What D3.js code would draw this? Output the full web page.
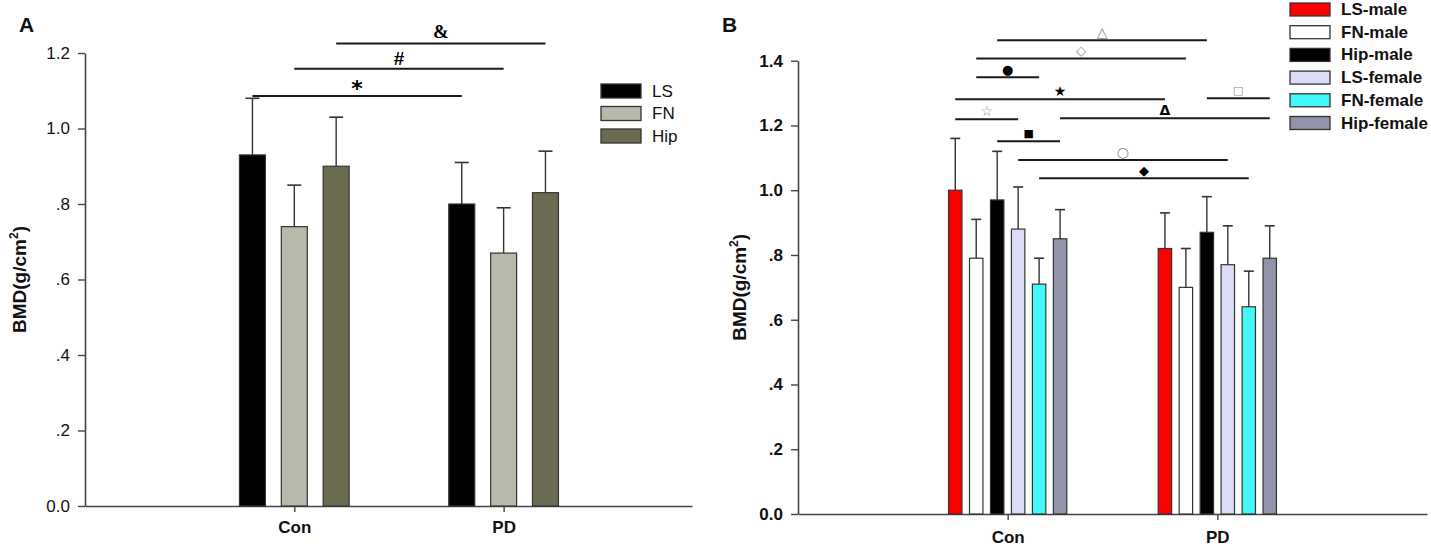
<!DOCTYPE html>
<html><head><meta charset="utf-8">
<script src="https://cdn.jsdelivr.net/npm/d3@7/dist/d3.min.js"></script>
<style>
body{margin:0;background:#fff}
svg{display:block}
</style>
</head><body>
<svg id="chart" width="1431" height="551"></svg>
<script>
// ---------- DATA ----------
const groups = ["Con", "PD"];

// Panel A
const seriesA = ["LS", "FN", "Hip"];
const colorsA = ["#000000", "#b9b9ab", "#6b6b52"];
const meanA_Con = [0.93, 0.74, 0.90];
const meanA_PD  = [0.80, 0.67, 0.83];
const errA_Con  = [1.08, 0.85, 1.03];
const errA_PD   = [0.91, 0.79, 0.94];
const yTicksA = [0, 0.2, 0.4, 0.6, 0.8, 1.0, 1.2];
const yTickLabelsA = ["0.0", ".2", ".4", ".6", ".8", "1.0", "1.2"];
// significance brackets: [fromGroup, fromSeries, toGroup, toSeries]
const sigSymbolsA = ["*", "#", "&"];
const sigLevelsA  = [1.086, 1.158, 1.225];
const sigPairsA   = [[0, 0, 1, 0], [0, 1, 1, 1], [0, 2, 1, 2]];

// Panel B
const seriesB = ["LS-male", "FN-male", "Hip-male", "LS-female", "FN-female", "Hip-female"];
const colorsB = ["#ff0000", "#ffffff", "#000000", "#dcdcf8", "#44f8f8", "#9292a8"];
const meanB_Con = [1.00, 0.79, 0.97, 0.88, 0.71, 0.85];
const meanB_PD  = [0.82, 0.70, 0.87, 0.77, 0.64, 0.79];
const errB_Con  = [1.16, 0.91, 1.12, 1.01, 0.79, 0.94];
const errB_PD   = [0.93, 0.82, 0.98, 0.89, 0.75, 0.89];
const yTicksB = [0, 0.2, 0.4, 0.6, 0.8, 1.0, 1.2, 1.4];
const yTickLabelsB = ["0.0", ".2", ".4", ".6", ".8", "1.0", "1.2", "1.4"];
const sigSymbolsB = ["\u25B3", "\u25C7", "\u25CF", "\u2605", "\u25A1", "\u2606", "\u0394", "\u25A0", "\u25CB", "\u25C6"];
const sigColorsB  = ["#8a8a8a", "#8a8a8a", "#000", "#000", "#8a8a8a", "#8a8a8a", "#000", "#000", "#8a8a8a", "#000"];
const sigLevelsB  = [1.463, 1.407, 1.349, 1.281, 1.284, 1.219, 1.222, 1.151, 1.093, 1.037];
const sigPairsB   = [[0, 2, 1, 2], [0, 1, 1, 1], [0, 1, 0, 4], [0, 0, 1, 0], [1, 2, 1, 5],
                     [0, 0, 0, 3], [0, 5, 1, 5], [0, 2, 0, 5], [0, 3, 1, 3], [0, 4, 1, 4]];

// ---------- DRAW ----------
const FONT = "'Liberation Sans', Arial, Helvetica, sans-serif";
const svg = d3.select("#chart");
svg.append("rect").attr("width", 1431).attr("height", 551).attr("fill", "#fff");

function panel(cfg) {
  const g = svg.append("g");
  const x = d3.scaleLinear().domain(cfg.xDomain).range(cfg.xRange);
  const y = d3.scaleLinear().domain([0, cfg.yMax]).range(cfg.yRange);
  const unit = x(1) - x(0);
  const sub = d3.scaleBand().domain(cfg.series)
    .range([-0.3 * unit, 0.3 * unit]).paddingInner(cfg.pad).paddingOuter(cfg.pad / 2);
  const cx = (gi, si) => x(gi + 1) + sub(cfg.series[si]) + sub.bandwidth() / 2;

  // axes
  const yAxis = d3.axisLeft(y).tickValues(cfg.yTicks)
    .tickFormat((d, i) => cfg.yLabels[i]).tickSize(7).tickSizeOuter(0).tickPadding(8);
  const ya = g.append("g").attr("transform", `translate(${cfg.xRange[0]},0)`).call(yAxis);
  const xAxis = d3.axisBottom(x).tickValues([1, 2])
    .tickFormat(d => groups[d - 1]).tickSize(6).tickSizeOuter(0).tickPadding(cfg.xLabelPad);
  const xa = g.append("g").attr("transform", `translate(0,${cfg.yRange[0]})`).call(xAxis);
  [ya, xa].forEach(a => {
    a.attr("font-family", FONT);
    a.select(".domain").attr("stroke", "#454545").attr("stroke-width", 1.6);
    a.selectAll(".tick line").attr("stroke", "#454545").attr("stroke-width", 1.4);
    a.selectAll("text").attr("fill", "#111");
  });
  ya.selectAll("text").attr("font-size", cfg.yTickSize).attr("font-weight", cfg.yTickWeight);
  xa.selectAll("text").attr("font-size", cfg.xTickSize).attr("font-weight", "bold");

  // bars
  cfg.means.forEach((arr, gi) => {
    arr.forEach((v, si) => {
      const bx = x(gi + 1) + sub(cfg.series[si]);
      g.append("rect").attr("x", bx).attr("y", y(v))
        .attr("width", sub.bandwidth()).attr("height", y(0) - y(v))
        .attr("fill", cfg.colors[si]).attr("stroke", "#333").attr("stroke-width", 1.2);
      const c = cx(gi, si), e = cfg.errs[gi][si];
      g.append("line").attr("x1", c).attr("x2", c).attr("y1", y(v)).attr("y2", y(e))
        .attr("stroke", "#333").attr("stroke-width", 1.4);
      g.append("line").attr("x1", c - cfg.cap).attr("x2", c + cfg.cap).attr("y1", y(e)).attr("y2", y(e))
        .attr("stroke", "#333").attr("stroke-width", 1.6);
    });
  });

  // significance lines
  cfg.sigPairs.forEach((p, i) => {
    const x1 = cx(p[0], p[1]), x2 = cx(p[2], p[3]), ly = y(cfg.sigLevels[i]);
    g.append("line").attr("x1", x1).attr("x2", x2).attr("y1", ly).attr("y2", ly)
      .attr("stroke", "#1a1a1a").attr("stroke-width", 2);
    g.append("text").attr("x", (x1 + x2) / 2).attr("y", ly - cfg.symOff[i])
      .attr("text-anchor", "middle").attr("dominant-baseline", "central")
      .attr("font-family", cfg.symFont[i]).attr("font-size", cfg.symSize[i])
      .attr("font-weight", cfg.symWeight[i])
      .attr("fill", cfg.symColors ? cfg.symColors[i] : "#000")
      .text(cfg.sigSymbols[i]);
  });

  // legend
  cfg.series.forEach((s, i) => {
    const ly = cfg.legY + i * cfg.legStep;
    g.append("rect").attr("x", cfg.legX).attr("y", ly).attr("width", 40).attr("height", cfg.legH)
      .attr("fill", cfg.colors[i]).attr("stroke", "#333").attr("stroke-width", 1.3);
    g.append("text").attr("x", cfg.legX + 51).attr("y", ly + cfg.legH / 2)
      .attr("dominant-baseline", "central").attr("font-family", FONT)
      .attr("font-size", cfg.legSize).attr("font-weight", cfg.legWeight).attr("fill", "#111").text(s);
  });

  // y title
  const t = g.append("text")
    .attr("transform", `translate(${cfg.titleX},${(cfg.yRange[0] + cfg.yRange[1]) / 2}) rotate(-90)`)
    .attr("text-anchor", "middle").attr("font-family", FONT).attr("font-size", 19)
    .attr("font-weight", "bold").attr("fill", "#111");
  t.append("tspan").text("BMD(g/cm");
  t.append("tspan").attr("font-size", 12).attr("dy", -8).text("2");
  t.append("tspan").attr("dy", 8).text(")");

  // panel letter
  g.append("text").attr("x", cfg.letterX).attr("y", 32).attr("font-family", FONT)
    .attr("font-size", 21).attr("font-weight", "bold").attr("fill", "#111").text(cfg.letter);
}

panel({
  letter: "A", letterX: 19, titleX: 26,
  xDomain: [0, 2.9], xRange: [85, 692], yMax: 1.2, yRange: [506, 53],
  series: seriesA, colors: colorsA, pad: 0.38,
  means: [meanA_Con, meanA_PD], errs: [errA_Con, errA_PD], cap: 7,
  yTicks: yTicksA, yLabels: yTickLabelsA, yTickSize: 17, yTickWeight: "normal",
  xTickSize: 17, xLabelPad: 9,
  sigPairs: sigPairsA, sigLevels: sigLevelsA, sigSymbols: sigSymbolsA,
  symFont: ["'DejaVu Sans', sans-serif", FONT, "'Liberation Serif', serif"],
  symSize: [22, 19, 19], symWeight: ["bold", "bold", "bold"], symOff: [8, 10, 12],
  legX: 601, legY: 84, legStep: 22.5, legH: 14, legSize: 17, legWeight: "normal"
});

const symFontB = "'DejaVu Sans', sans-serif";
panel({
  letter: "B", letterX: 722, titleX: 746,
  xDomain: [0, 3.0], xRange: [798, 1427], yMax: 1.4, yRange: [514, 60.7],
  series: seriesB, colors: colorsB, pad: 0.36,
  means: [meanB_Con, meanB_PD], errs: [errB_Con, errB_PD], cap: 5,
  yTicks: yTicksB, yLabels: yTickLabelsB, yTickSize: 17, yTickWeight: "bold",
  xTickSize: 17, xLabelPad: 11,
  sigPairs: sigPairsB, sigLevels: sigLevelsB, sigSymbols: sigSymbolsB,
  symColors: sigColorsB,
  symFont: sigSymbolsB.map(() => symFontB),
  symSize: [14, 13, 13, 14, 11, 14, 14, 11, 14, 13],
  symWeight: ["normal", "normal", "normal", "normal", "normal", "normal", "bold", "normal", "normal", "normal"],
  symOff: sigSymbolsB.map(() => 8),
  legX: 1290, legY: 3, legStep: 22.7, legH: 13, legSize: 17, legWeight: "bold"
});
</script>
</body></html>
